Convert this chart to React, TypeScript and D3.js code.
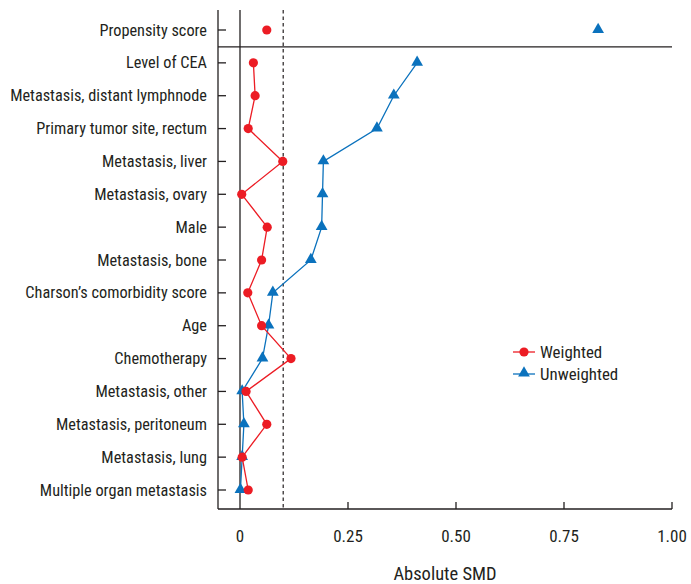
import React from 'react'
import * as d3 from 'd3'

const covariates = [
    'Propensity score',
    'Level of CEA',
    'Metastasis, distant lymphnode',
    'Primary tumor site, rectum',
    'Metastasis, liver',
    'Metastasis, ovary',
    'Male',
    'Metastasis, bone',
    'Charson\u2019s comorbidity score',
    'Age',
    'Chemotherapy',
    'Metastasis, other',
    'Metastasis, peritoneum',
    'Metastasis, lung',
    'Multiple organ metastasis',
]
const weighted = [0.062, 0.031, 0.035, 0.019, 0.099, 0.004, 0.063, 0.05, 0.018, 0.05, 0.118, 0.014, 0.062, 0.005, 0.019]
const unweighted = [0.829, 0.41, 0.356, 0.317, 0.193, 0.191, 0.189, 0.164, 0.076, 0.066, 0.052, 0.005, 0.009, 0.005, 0.001]
const xTicks = [0.25, 0.5, 0.75, 1.0]
const xTickLabels = ['0', '0.25', '0.50', '0.75', '1.00']
const threshold = 0.1

const RED = '#ec1c24'
const BLUE = '#0b72bd'
const INK = '#231f20'
const FONT = '"Roboto Condensed", "Liberation Sans Narrow", "DejaVu Sans Condensed", sans-serif'

const App = () => {
    const left = 218, right = 672, top = 10, bottom = 509
    const x = d3.scaleLinear().domain([(left - 240) / 432, 1]).range([left, right])
    const y = d3.scalePoint().domain(covariates).range([30, 490])

    // lines skip the propensity score row
    const rows = covariates.map((c, i) => ({ c, w: weighted[i], u: unweighted[i] })).slice(1)
    const wLine = d3.line<any>().x(d => x(d.w)).y(d => y(d.c)!)
    const uLine = d3.line<any>().x(d => x(d.u)).y(d => y(d.c)!)
    const tri = d3.symbol().type(d3.symbolTriangle).size(60)

    const sepY = (y(covariates[0])! + y(covariates[1])!) / 2 + 0.5

    return (
        <svg width={691} height={584} style={{ position: 'absolute', left: 0, top: 0 }} fontFamily={FONT}>
            <rect width={691} height={584} fill="#fff" />
            {/* axes */}
            <line x1={left} x2={left} y1={top} y2={bottom} stroke={INK} strokeWidth={1.3} />
            <line x1={left} x2={right} y1={bottom} y2={bottom} stroke={INK} strokeWidth={1.3} />
            <line x1={left} x2={right} y1={sepY} y2={sepY} stroke={INK} strokeWidth={1.3} />
            <line x1={x(0)} x2={x(0)} y1={top} y2={bottom} stroke={INK} strokeWidth={1.3} />
            <line x1={x(threshold)} x2={x(threshold)} y1={top} y2={bottom} stroke={INK} strokeWidth={1.2} strokeDasharray="3.5,3" />
            {xTicks.map(t => (
                <line key={t} x1={x(t)} x2={x(t)} y1={bottom} y2={bottom - 7} stroke={INK} strokeWidth={1.3} />
            ))}
            {[0, ...xTicks].map((t, i) => (
                <text key={'l' + t} x={x(t)} y={542} textAnchor="middle" fontSize={17} fill={INK}>{xTickLabels[i]}</text>
            ))}
            <text x={445} y={580} textAnchor="middle" fontSize={18.5} fill={INK}>Absolute SMD</text>
            {covariates.map(c => (
                <g key={c}>
                    <line x1={left} x2={left + 8} y1={y(c)} y2={y(c)} stroke={INK} strokeWidth={1.3} />
                    <text x={207} y={y(c)! + 5.5} textAnchor="end" fontSize={16.3} fill={INK}>{c}</text>
                </g>
            ))}
            {/* series */}
            <path d={uLine(rows)!} fill="none" stroke={BLUE} strokeWidth={1.3} />
            <path d={wLine(rows)!} fill="none" stroke={RED} strokeWidth={1.3} />
            {covariates.map((c, i) => (
                <path key={'u' + c} d={tri()!} transform={`translate(${x(unweighted[i])},${y(c)! - 0.5})`} fill={BLUE} />
            ))}
            {covariates.map((c, i) => (
                <circle key={'w' + c} cx={x(weighted[i])} cy={y(c)} r={4.6} fill={RED} />
            ))}
            {/* legend */}
            <g>
                <line x1={513} x2={535} y1={352} y2={352} stroke={RED} strokeWidth={1.3} />
                <circle cx={524} cy={352} r={4.6} fill={RED} />
                <text x={540} y={358} fontSize={16.9} fill={INK}>Weighted</text>
                <line x1={513} x2={535} y1={374} y2={374} stroke={BLUE} strokeWidth={1.3} />
                <path d={tri()!} transform="translate(524,373)" fill={BLUE} />
                <text x={540} y={380} fontSize={16.9} fill={INK}>Unweighted</text>
            </g>
        </svg>
    )
}

export default App
